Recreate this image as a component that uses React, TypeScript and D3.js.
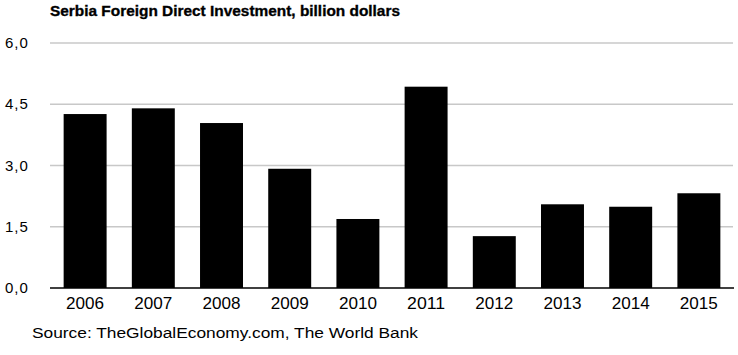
import React from "react";
import * as d3 from "d3";

const years = ["2006", "2007", "2008", "2009", "2010", "2011", "2012", "2013", "2014", "2015"];
const values = [4.26, 4.4, 4.04, 2.92, 1.69, 4.93, 1.27, 2.05, 1.99, 2.32];
const yTicks = [0, 1.5, 3.0, 4.5, 6.0];
const title = "Serbia Foreign Direct Investment, billion dollars";
const source = "Source: TheGlobalEconomy.com, The World Bank";

export default function App() {
  const W = 738, H = 355;
  const left = 50, right = 734, top = 43, bottom = 288;
  const x = d3.scaleBand<string>().domain(years).range([left, right]).paddingInner(0.37).paddingOuter(0.2);
  const y = d3.scaleLinear().domain([0, 6]).range([bottom, top]);
  const fmt = (v: number) => v.toFixed(1).replace(".", ",");
  const font = "Arial, 'Liberation Sans', sans-serif";
  return (
    <svg width={W} height={H} style={{ position: "absolute", left: 0, top: 0, background: "#fff" }}>
      <rect x={0} y={0} width={W} height={H} fill="#fff" />
      <text x={50} y={16} fontFamily={font} fontWeight="bold" fontSize={15.5} fill="#000" stroke="#000" strokeWidth={0.35} textLength={350} lengthAdjust="spacingAndGlyphs">{title}</text>
      {yTicks.map((t) => (
        <g key={t}>
          {t !== 0 && <line x1={left} x2={right - 1} y1={y(t)} y2={y(t)} stroke="#c8c8c8" strokeWidth={1.5} />}
          <text x={5} y={y(t) + 5} fontFamily={font} fontSize={15} fill="#000" letterSpacing={1}>{fmt(t)}</text>
        </g>
      ))}
      {years.map((yr, i) => (
        <rect key={yr} x={x(yr)} y={y(values[i])} width={x.bandwidth()} height={y(0) - y(values[i])} fill="#000" />
      ))}
      <line x1={left} x2={right} y1={y(0)} y2={y(0)} stroke="#000" strokeWidth={1.5} />
      {years.map((yr) => (
        <text key={yr} x={(x(yr) as number) + x.bandwidth() / 2} y={309} textAnchor="middle" fontFamily={font} fontSize={16} fill="#000" textLength={38} lengthAdjust="spacingAndGlyphs">{yr}</text>
      ))}
      <text x={32} y={338} fontFamily={font} fontSize={14} fill="#000" textLength={386} lengthAdjust="spacingAndGlyphs">{source}</text>
    </svg>
  );
}
